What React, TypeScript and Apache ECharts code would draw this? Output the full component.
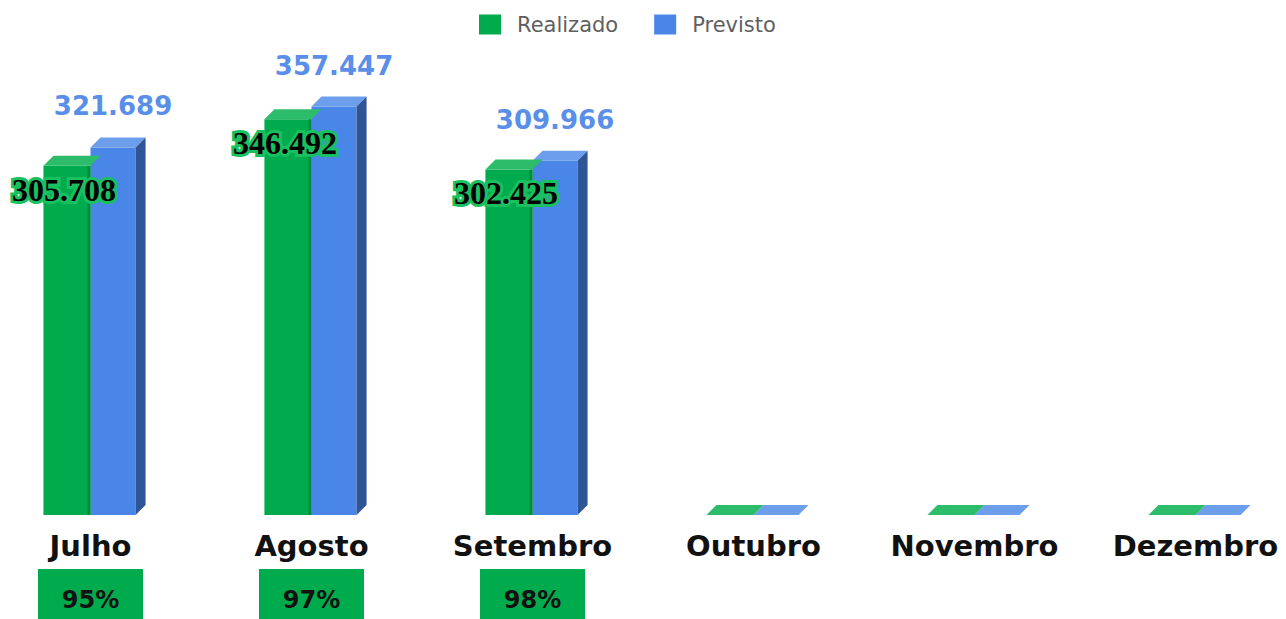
import React, { useEffect, useRef } from "react";
import * as echarts from "echarts";

const months = ["Julho", "Agosto", "Setembro", "Outubro", "Novembro", "Dezembro"];
const realizado = [305708, 346492, 302425, 0, 0, 0];
const previsto = [321689, 357447, 309966, 0, 0, 0];
const percentuais = ["95%", "97%", "98%"];

const fmt = (v: number) => v.toLocaleString("de-DE");

const GREEN = "#00ab4e";
const GREEN_TOP = "#2dbd6a";
const GREEN_EDGE = "#008c3f";
const BLUE = "#4a86e8";
const BLUE_TOP = "#6d9eeb";
const BLUE_SIDE = "#2f5596";

function makeRender(kind: "g" | "b") {
  return (params: any, api: any) => {
    const i = api.value(0);
    const v = api.value(1);
    const base = api.coord([i, 0]);
    const top = api.coord([i, v]);
    const band = api.size([1, 0])[0];
    const c = base[0];
    const w = kind === "g" ? band * 0.213 : band * 0.204;
    const x0 = kind === "g" ? c - w : c;
    const d = 10;
    const yT = top[1];
    const yB = base[1];
    const h = yB - yT;
    const children: any[] = [];
    if (h > 0.5) {
      children.push({
        type: "rect",
        shape: { x: x0, y: yT, width: w, height: h },
        style: { fill: kind === "g" ? GREEN : BLUE },
      });
      if (kind === "g") {
        children.push({
          type: "rect",
          shape: { x: x0 + w - 3, y: yT, width: 3, height: h },
          style: { fill: GREEN_EDGE },
        });
      }
    }
    children.push({
      type: "polygon",
      shape: { points: [[x0, yT], [x0 + d, yT - d], [x0 + w + d, yT - d], [x0 + w, yT]] },
      style: { fill: kind === "g" ? GREEN_TOP : BLUE_TOP },
    });
    if (kind === "b" && h > 0.5) {
      children.push({
        type: "polygon",
        shape: { points: [[x0 + w, yT], [x0 + w + d, yT - d], [x0 + w + d, yB - d], [x0 + w, yB]] },
        style: { fill: BLUE_SIDE },
      });
    }
    if (v > 0) {
      if (kind === "b") {
        children.push({
          type: "text",
          style: {
            text: fmt(v),
            x: x0 + w / 2,
            y: yT - 41,
            align: "center",
            verticalAlign: "middle",
            fill: "#5a8fe9",
            fontSize: 26,
            fontWeight: "bold",
            fontFamily: "DejaVu Sans",
          },
        });
      } else {
        children.push({
          type: "text",
          style: {
            text: fmt(v),
            x: x0 + w / 2 - 3,
            y: yT + 24,
            align: "center",
            verticalAlign: "middle",
            fill: "#000",
            stroke: "#19c060",
            lineWidth: 6,
            fontSize: 32,
            fontWeight: "bold",
            fontFamily: "Liberation Serif",
          },
        });
      }
    }
    return { type: "group", children };
  };
}

export default function App() {
  const ref = useRef<HTMLDivElement>(null);
  useEffect(() => {
    if (!ref.current) return;
    const chart = echarts.init(ref.current, null, { renderer: "svg" });
    chart.setOption({
      animation: false,
      legend: {
        left: 474,
        top: 9,
        itemWidth: 22,
        itemHeight: 20,
        itemGap: 36,
        icon: "rect",
        textStyle: { fontSize: 21, color: "#5f5f5f", fontFamily: "DejaVu Sans", padding: [0, 0, 0, 11] },
        data: ["Realizado", "Previsto"],
      },
      grid: {
        left: -20,
        right: -20,
        top: 58,
        bottom: 104,
        containLabel: false,
        outerBoundsMode: "none",
      },
      xAxis: {
        type: "category",
        data: months,
        axisLine: { show: false },
        axisTick: { show: false },
        axisLabel: {
          interval: 0,
          margin: 8,
          hideOverlap: false,
          formatter: (val: string, idx: number) =>
            idx < percentuais.length ? `{a|${val}}\n{b|${percentuais[idx]}}` : `{a|${val}}`,
          rich: {
            a: {
              fontSize: 29,
              fontWeight: "bold",
              fontFamily: "DejaVu Sans",
              color: "#111",
              lineHeight: 46,
            },
            b: {
              fontSize: 24,
              fontWeight: "bold",
              fontFamily: "DejaVu Sans",
              color: "#111",
              backgroundColor: GREEN,
              width: 105,
              height: 62,
              lineHeight: 62,
              align: "center",
            },
          },
        },
      },
      yAxis: { type: "value", min: 0, max: 400000, show: false, splitLine: { show: false } },
      series: [
        {
          name: "Realizado",
          type: "custom",
          itemStyle: { color: GREEN },
          renderItem: makeRender("g"),
          data: realizado.map((v, i) => [i, v]),
          z: 2,
        },
        {
          name: "Previsto",
          type: "custom",
          itemStyle: { color: BLUE },
          renderItem: makeRender("b"),
          data: previsto.map((v, i) => [i, v]),
          z: 1,
        },
      ],
    });
    return () => chart.dispose();
  }, []);
  return <div ref={ref} style={{ width: 1286, height: 619, position: "absolute", left: 0, top: 0 }} />;
}
